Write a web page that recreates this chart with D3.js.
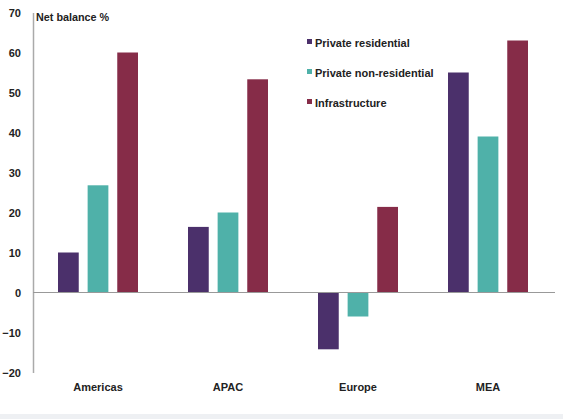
<!DOCTYPE html>
<html>
<head>
<meta charset="utf-8">
<script src="https://cdn.jsdelivr.net/npm/d3@7"></script>
<style>
  body { margin: 0; background: #fff; }
  text { font-family: "Liberation Sans", Arial, sans-serif; font-weight: bold; fill: #222; }
</style>
</head>
<body>
<div id="wrapper"></div>
<script>
const regions = ["Americas", "APAC", "Europe", "MEA"];
const seriesNames = ["Private residential", "Private non-residential", "Infrastructure"];
const privateResidential = [10, 16.4, -14.2, 55];
const privateNonResidential = [26.8, 20, -6, 39];
const infrastructure = [60, 53.3, 21.4, 63];
const yTicks = [-20, -10, 0, 10, 20, 30, 40, 50, 60, 70];
const colors = ["#4b306b", "#4fb1a9", "#862c48"];

const width = 563, height = 419;

const svg = d3.select("#wrapper").append("svg")
  .attr("width", width)
  .attr("height", height);

const series = [privateResidential, privateNonResidential, infrastructure];
const rows = [];
regions.forEach((r, i) => {
  seriesNames.forEach((s, j) => rows.push({region: r, series: s, value: series[j][i]}));
});

const x0 = d3.scaleBand().domain(regions).range([33, 553]);
const x1 = d3.scaleBand().domain(seriesNames).range([0, 80]).paddingInner(0.3);
const y = d3.scaleLinear().domain([-20, 70]).range([372.5, 12.5]);

// bottom faint band
svg.append("rect").attr("x", 0).attr("y", 414).attr("width", width).attr("height", 5)
  .attr("fill", "#eef0f3");

// y axis
const yAxis = d3.axisLeft(y).tickValues(yTicks).tickSize(0).tickPadding(12);
const gy = svg.append("g").attr("transform", "translate(33,0)").call(yAxis);
gy.select(".domain").attr("stroke", "#aaa").attr("stroke-width", 1.5);
gy.selectAll("text").style("font-size", "11px").attr("fill", "#222");

svg.append("text").attr("x", 36).attr("y", 21).style("font-size", "10.8px")
  .text("Net balance %");

// bars
svg.append("g").selectAll("rect")
  .data(rows).enter().append("rect")
  .attr("x", d => x0(d.region) + (x0.bandwidth() - 80) / 2 + x1(d.series))
  .attr("width", x1.bandwidth())
  .attr("y", d => y(Math.max(0, d.value)))
  .attr("height", d => Math.abs(y(d.value) - y(0)))
  .attr("fill", d => colors[seriesNames.indexOf(d.series)]);

// zero line
svg.append("line").attr("x1", 33).attr("x2", 555)
  .attr("y1", y(0)).attr("y2", y(0))
  .attr("stroke", "#999").attr("stroke-width", 1);

// category labels
const xAxis = d3.axisBottom(x0).tickSize(0).tickPadding(0);
const gx = svg.append("g").attr("transform", "translate(0,383)").call(xAxis);
gx.select(".domain").remove();
gx.selectAll("text").style("font-size", "11px").attr("fill", "#222");

// legend
const legend = svg.append("g").selectAll("g")
  .data(seriesNames).enter().append("g")
  .attr("transform", (d, i) => "translate(307," + (43 + i * 30) + ")");
legend.append("rect").attr("x", 0).attr("y", -4).attr("width", 5).attr("height", 5)
  .attr("fill", (d, i) => colors[i]);
legend.append("text").attr("x", 8).attr("y", 0).attr("dy", "0.35em")
  .style("font-size", "11px").text(d => d);
</script>
</body>
</html>
